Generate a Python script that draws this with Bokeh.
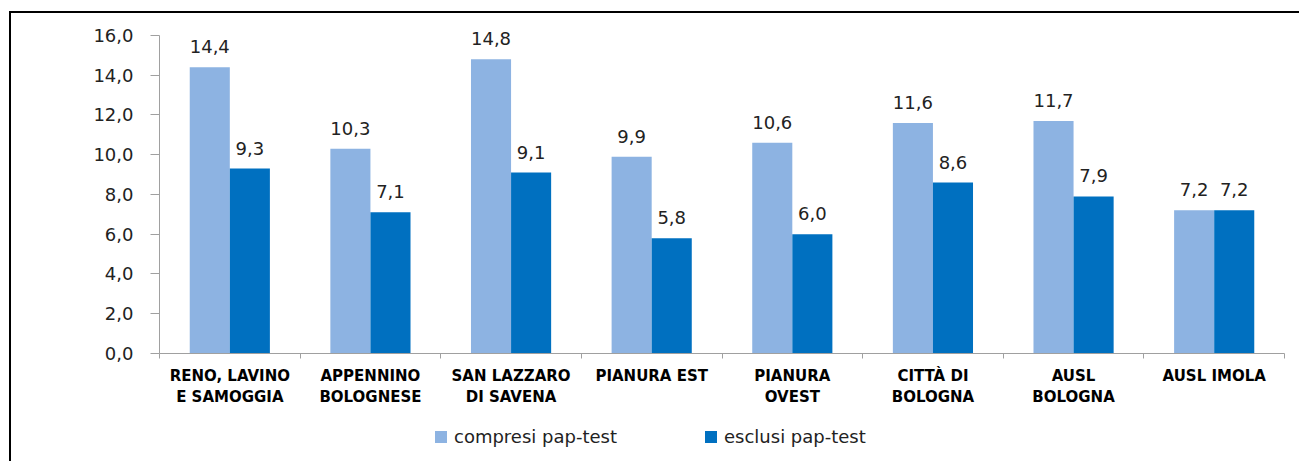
from bokeh.plotting import figure
from bokeh.models import (ColumnDataSource, Range1d, FixedTicker, LabelSet,
                          Legend, LegendItem)
from bokeh.layouts import column
from bokeh.core.properties import value
from bokeh.embed import file_html
from bokeh.resources import INLINE

categories = ["RENO, LAVINO\nE SAMOGGIA", "APPENNINO\nBOLOGNESE", "SAN LAZZARO\nDI SAVENA",
              "PIANURA EST", "PIANURA\nOVEST", "CITTÀ DI\nBOLOGNA", "AUSL\nBOLOGNA", "AUSL IMOLA"]
compresi = [14.4, 10.3, 14.8, 9.9, 10.6, 11.6, 11.7, 7.2]
esclusi = [9.3, 7.1, 9.1, 5.8, 6.0, 8.6, 7.9, 7.2]
series_names = ["compresi pap-test", "esclusi pap-test"]
y_ticks = [0, 2, 4, 6, 8, 10, 12, 14, 16]

LIGHT = "#8DB3E2"
DARK = "#0070C0"
AXIS = "#A0A0A0"
NUM_FONT = "DejaVu Sans"
W = 1288

def fmt(v):
    return f"{v:.1f}".replace(".", ",")

n = len(categories)
centers = [i + 0.5 for i in range(n)]
bw = 0.285
off = bw / 2

src1 = ColumnDataSource(dict(x=[c - off for c in centers], y=compresi,
                             lab=[fmt(v) for v in compresi]))
src2 = ColumnDataSource(dict(x=[c + off for c in centers], y=esclusi,
                             lab=[fmt(v) for v in esclusi]))

p = figure(width=W, height=400, output_backend="svg", toolbar_location=None,
           x_range=Range1d(0, n), y_range=Range1d(0, 16.6),
           min_border_left=148, min_border_right=15, min_border_top=10,
           min_border_bottom=60)
p.outline_line_color = None
p.xgrid.visible = False
p.ygrid.visible = False
p.background_fill_color = "white"
p.border_fill_color = "white"

r1 = p.vbar(x="x", top="y", width=bw, source=src1, fill_color=LIGHT, line_color=None)
r2 = p.vbar(x="x", top="y", width=bw, source=src2, fill_color=DARK, line_color=None)

for src in (src1, src2):
    ls = LabelSet(x="x", y="y", text="lab", source=src, y_offset=14,
                  text_align="center", text_baseline="alphabetic",
                  text_font=value(NUM_FONT), text_font_size=value("18px"),
                  text_color="#222222")
    p.add_layout(ls)

# y axis
p.yaxis.bounds = (0, 16)
p.yaxis.ticker = FixedTicker(ticks=y_ticks)
p.yaxis.major_label_overrides = {t: fmt(t) for t in y_ticks}
p.yaxis.major_label_text_font = NUM_FONT
p.yaxis.major_label_text_font_size = "18px"
p.yaxis.major_label_text_color = "#222222"
p.yaxis.axis_line_color = AXIS
p.yaxis.major_tick_line_color = AXIS
p.yaxis.major_tick_out = 9
p.yaxis.major_tick_in = 0
p.yaxis.minor_tick_line_color = None
p.yaxis.major_label_standoff = 17

# x axis
p.xaxis.ticker = FixedTicker(ticks=centers, minor_ticks=list(range(n + 1)))
p.xaxis.major_label_overrides = {c: lab for c, lab in zip(centers, categories)}
p.xaxis.major_label_text_font = NUM_FONT
p.xaxis.major_label_text_font_style = "bold"
p.xaxis.major_label_text_font_size = "15px"
p.xaxis.major_label_text_color = "black"
p.xaxis.major_label_text_align = "center"
p.xaxis.axis_line_color = AXIS
p.xaxis.major_tick_line_color = None
p.xaxis.major_tick_out = 0
p.xaxis.major_tick_in = 0
p.xaxis.minor_tick_line_color = AXIS
p.xaxis.minor_tick_out = 5
p.xaxis.minor_tick_in = 0
p.xaxis.major_label_standoff = 8

# legend strip (its frame is aligned with the main plot's frame)
lf = figure(width=W, height=48, output_backend="svg", toolbar_location=None,
            x_axis_location=None, y_axis_location=None,
            x_range=Range1d(0, 1), y_range=Range1d(0, 1),
            min_border_left=0, min_border_right=0, min_border_top=0,
            min_border_bottom=0)
lf.outline_line_color = None
lf.xgrid.visible = False
lf.ygrid.visible = False
lf.border_fill_color = "white"
lr1 = lf.vbar(x=[-5], top=[0], width=0.1, fill_color=LIGHT, line_color=None)
lr2 = lf.vbar(x=[-5], top=[0], width=0.1, fill_color=DARK, line_color=None)
legend = Legend(items=[LegendItem(label=series_names[0], renderers=[lr1], index=0),
                       LegendItem(label=series_names[1], renderers=[lr2], index=0)],
                orientation="horizontal", location=(274, 14),
                glyph_width=15, glyph_height=15, label_standoff=6, spacing=86,
                padding=0, margin=0, border_line_color=None,
                background_fill_alpha=0,
                label_text_font=NUM_FONT, label_text_font_size="18px",
                label_text_color="#222222")
lf.add_layout(legend, "center")

layout = column(p, lf, spacing=0)
layout.margin = (11, 0, 0, 9)
layout.styles = {"border-top": "2px solid black", "border-left": "2px solid black"}

open("out.html", "w").write(file_html(layout, INLINE))
